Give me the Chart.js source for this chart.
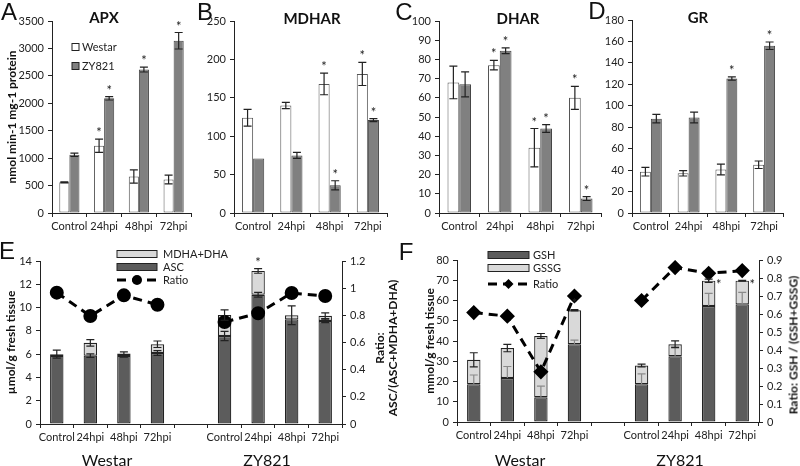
<!DOCTYPE html>
<html>
<head>
<meta charset="utf-8">
<script src="https://cdn.jsdelivr.net/npm/chart.js@4.4.0/dist/chart.umd.min.js"></script>
<style>
body { margin: 0; background: #fff; }
#wrap { position: relative; width: 800px; height: 466px; overflow: hidden; font-family: Lato, sans-serif; color: #111; }
canvas { position: absolute; left: 0; top: 0; }
.t { position: absolute; white-space: nowrap; transform: translate(-50%, -50%); }
.letter { font-family: "Liberation Sans", Arial, sans-serif; font-size: 24px; }
.ttl { font-weight: bold; font-size: 15px; }
.grp { font-size: 16px; }
.rot { transform: translate(-50%, -50%) rotate(-90deg); font-weight: bold; font-size: 12px; text-align: center; line-height: 13px; }
</style>
</head>
<body>
<div id="wrap">
  <canvas id="chartA" width="800" height="466"></canvas>
  <canvas id="chartB" width="800" height="466"></canvas>
  <canvas id="chartC" width="800" height="466"></canvas>
  <canvas id="chartD" width="800" height="466"></canvas>
  <canvas id="chartE" width="800" height="466"></canvas>
  <canvas id="chartF" width="800" height="466"></canvas>

  <div class="t letter" style="left:9px;top:12px">A</div>
  <div class="t letter" style="left:205px;top:12px">B</div>
  <div class="t letter" style="left:404px;top:12px">C</div>
  <div class="t letter" style="left:597px;top:11px">D</div>
  <div class="t letter" style="left:7px;top:251px">E</div>
  <div class="t letter" style="left:406px;top:252px">F</div>

  <div class="t ttl" style="left:104px;top:17px">APX</div>
  <div class="t ttl" style="left:312px;top:18px">MDHAR</div>
  <div class="t ttl" style="left:518px;top:18px">DHAR</div>
  <div class="t ttl" style="left:698px;top:17px">GR</div>

  <div class="t grp" style="left:107px;top:459px">Westar</div>
  <div class="t grp" style="left:267px;top:459px">ZY821</div>
  <div class="t grp" style="left:520px;top:459px">Westar</div>
  <div class="t grp" style="left:680px;top:459px">ZY821</div>

  <div class="t rot" style="left:386px;top:348px">Ratio:<br>ASC/(ASC+MDHA+DHA)</div>
  <div class="t rot" style="left:793px;top:345px">Ratio: GSH / (GSH+GSSG)</div>
</div>

<script>
// categories
const timeCats = ['Control', '24hpi', '48hpi', '72hpi'];
const groupCats = ['Control', '24hpi', '48hpi', '72hpi', '', 'Control', '24hpi', '48hpi', '72hpi'];

// A - APX
const apxWestar = [560, 1225, 665, 610];
const apxWestarErr = [10, 120, 120, 80];
const apxZy = [1060, 2090, 2615, 3140];
const apxZyErr = [30, 30, 45, 150];
const apxWestarStars = [0, 1, 0, 0];
const apxZyStars = [0, 1, 1, 1];

// B - MDHAR
const mdharWestar = [124, 140, 168, 181];
const mdharWestarErr = [11, 4, 14, 15];
const mdharZy = [71, 75, 36, 121];
const mdharZyErr = [0, 4, 6, 2];
const mdharWestarStars = [0, 0, 1, 1];
const mdharZyStars = [0, 0, 1, 1];

// C - DHAR
const dharWestar = [68, 77, 34, 60];
const dharWestarErr = [8.5, 2.5, 10, 6];
const dharZy = [67, 84.5, 44, 7.5];
const dharZyErr = [6.5, 1.5, 2, 1];
const dharWestarStars = [0, 1, 1, 1];
const dharZyStars = [0, 1, 1, 1];

// D - GR
const grWestar = [38.5, 37, 40.5, 45];
const grWestarErr = [4, 2.5, 5, 3.5];
const grZy = [88, 89, 125.5, 156];
const grZyErr = [4, 5, 1.5, 3.5];
const grWestarStars = [0, 0, 0, 0];
const grZyStars = [0, 0, 1, 1];

// E - ascorbate pool
const ascE = [5.85, 5.87, 5.85, 6.1, null, 7.56, 11.1, 8.99, 8.85];
const ascErrE = [0, 0.15, 0.1, 0.2, null, 0.4, 0.2, 0, 0.15];
const mdhaE = [0.15, 1.1, 0.2, 0.75, null, 1.8, 2.05, 0.35, 0.45];
const totalErrE = [0.35, 0.28, 0.15, 0.28, null, 0.45, 0.2, 0.8, 0.25];
const starsE = [0, 0, 0, 0, 0, 0, 1, 0, 0];
const ratioE = [0.967, 0.795, 0.947, 0.878, null, 0.751, 0.815, 0.964, 0.942];

// F - glutathione pool
const gshF = [18.7, 21.7, 12.2, 38.4, null, 18.7, 32.5, 57.3, 58.1];
const gshErrF = [4.5, 5.7, 5.5, 2.0, null, 5.1, 5.0, 6.2, 5.9];
const gssgF = [12.0, 14.8, 30.3, 16.8, null, 9.2, 5.9, 12.5, 11.7];
const totalErrF = [3.5, 1.8, 1.2, 0.3, null, 0.7, 1.7, 0.8, 0.2];
const starsF = [0, 0, 0, 1, 0, 0, 0, 2, 2];
const ratioF = [0.608, 0.588, 0.279, 0.70, null, 0.675, 0.858, 0.826, 0.841];

Chart.defaults.font.family = 'Lato, sans-serif';
Chart.defaults.font.size = 11;
Chart.defaults.color = '#222';

const errorBars = {
  id: 'errorBars',
  afterDatasetsDraw(chart) {
    const ctx = chart.ctx;
    chart.data.datasets.forEach((ds, di) => {
      if (!ds.errors && !ds.stars) return;
      const meta = chart.getDatasetMeta(di);
      const scale = chart.scales[meta.yAxisID];
      const unit = Math.abs(scale.getPixelForValue(1) - scale.getPixelForValue(0));
      meta.data.forEach((bar, i) => {
        if (ds.data[i] == null) return;
        const x = bar.x, y = bar.y;
        const d = (ds.errors ? ds.errors[i] || 0 : 0) * unit;
        ctx.save();
        ctx.strokeStyle = ds.errColor || '#222';
        ctx.lineWidth = 1.2;
        if (d > 0) {
          const lo = ds.errUp ? y : y + d;
          ctx.beginPath();
          ctx.moveTo(x, y - d); ctx.lineTo(x, lo);
          ctx.moveTo(x - 4, y - d); ctx.lineTo(x + 4, y - d);
          if (!ds.errUp) { ctx.moveTo(x - 4, lo); ctx.lineTo(x + 4, lo); }
          ctx.stroke();
        }
        const s = ds.stars ? ds.stars[i] : 0;
        if (s) {
          ctx.fillStyle = '#222';
          ctx.font = '13px Lato, sans-serif';
          ctx.textAlign = 'center';
          ctx.textBaseline = 'alphabetic';
          if (s === 1) ctx.fillText('*', x, y - d - 2);
          else ctx.fillText('*', x + 10, y + 8);
        }
        ctx.restore();
      });
    });
  }
};

function makeKey(items) {
  return {
    id: 'keyBox',
    afterDraw(chart) {
      const ctx = chart.ctx;
      ctx.save();
      items.forEach(it => {
        if (it.kind === 'box') {
          ctx.fillStyle = it.fill;
          ctx.strokeStyle = '#222';
          ctx.lineWidth = 1;
          ctx.fillRect(it.x, it.y - it.h / 2, it.w, it.h);
          ctx.strokeRect(it.x, it.y - it.h / 2, it.w, it.h);
        } else {
          ctx.strokeStyle = '#000';
          ctx.lineWidth = it.lw;
          ctx.setLineDash(it.dash);
          ctx.beginPath();
          ctx.moveTo(it.x, it.y); ctx.lineTo(it.x + it.w, it.y);
          ctx.stroke();
          ctx.setLineDash([]);
          ctx.fillStyle = '#000';
          const cx = it.x + it.w / 2;
          ctx.beginPath();
          if (it.marker === 'circle') {
            ctx.arc(cx, it.y, 5, 0, Math.PI * 2);
          } else {
            ctx.moveTo(cx, it.y - 5); ctx.lineTo(cx + 5, it.y); ctx.lineTo(cx, it.y + 5); ctx.lineTo(cx - 5, it.y);
            ctx.closePath();
          }
          ctx.fill();
        }
        ctx.fillStyle = '#222';
        ctx.font = '11px Lato, sans-serif';
        ctx.textAlign = 'left';
        ctx.textBaseline = 'middle';
        ctx.fillText(it.text, it.tx, it.y);
      });
      ctx.restore();
    }
  };
}

function leftAxis(max, step, width, title, stacked) {
  return {
    position: 'left', min: 0, max: max, stacked: stacked,
    ticks: { stepSize: step, padding: 4, callback: v => Math.round(v * 10) / 10 },
    grid: { drawOnChartArea: false, tickLength: 4, color: '#222' },
    border: { color: '#222' },
    title: title ? { display: true, text: title, font: { size: 12, weight: 'bold' }, color: '#111', padding: { top: 1, bottom: 0 } } : { display: false },
    afterFit(s) { s.width = width; }
  };
}

function rightAxis(max, step, width) {
  return {
    position: 'right', min: 0, max: max,
    ticks: { stepSize: step, padding: 4, callback: v => Math.round(v * 10) / 10 },
    grid: { drawOnChartArea: false, tickLength: 4, color: '#222' },
    border: { color: '#222' },
    afterFit(s) { s.width = width; }
  };
}

function bottomAxis(height, stacked) {
  return {
    stacked: stacked,
    ticks: { maxRotation: 0, minRotation: 0, autoSkip: false, padding: 3 },
    grid: { drawOnChartArea: false, tickLength: 4, color: '#222', offset: true },
    border: { color: '#222' },
    afterFit(s) { s.height = height; }
  };
}

// plot box: left, top, right, bottom of the plot area, width of y axis
function enzymeChart(id, box, westar, westarErr, westarStars, zy, zyErr, zyStars, max, step, yTitle, keyItems) {
  const plugins = [errorBars];
  if (keyItems) plugins.push(makeKey(keyItems));
  new Chart(document.getElementById(id), {
    type: 'bar',
    data: {
      labels: timeCats,
      datasets: [
        { label: 'Westar', data: westar, errors: westarErr, stars: westarStars, backgroundColor: '#ffffff', borderColor: '#555', borderWidth: 1, borderSkipped: false, categoryPercentage: 0.58, barPercentage: 1 },
        { label: 'ZY821', data: zy, errors: zyErr, stars: zyStars, backgroundColor: '#808080', borderColor: '#444', borderWidth: 1, borderSkipped: false, categoryPercentage: 0.58, barPercentage: 1 }
      ]
    },
    options: {
      responsive: false, animation: false,
      layout: { padding: { left: box.left - box.axisW, top: box.top, right: 800 - box.right, bottom: 466 - box.bottom - 24 } },
      plugins: { legend: { display: false }, tooltip: { enabled: false } },
      scales: { x: bottomAxis(24, false), y: leftAxis(max, step, box.axisW, yTitle, false) }
    },
    plugins: plugins
  });
}

enzymeChart('chartA', { left: 52, top: 21, right: 191, bottom: 213, axisW: 48 },
  apxWestar, apxWestarErr, apxWestarStars, apxZy, apxZyErr, apxZyStars, 3500, 500, 'nmol min-1 mg-1 protein',
  [
    { kind: 'box', fill: '#ffffff', x: 72, y: 47, w: 7, h: 7, text: 'Westar', tx: 82 },
    { kind: 'box', fill: '#808080', x: 72, y: 66, w: 7, h: 7, text: 'ZY821', tx: 82 }
  ]);
enzymeChart('chartB', { left: 234, top: 21, right: 387, bottom: 213, axisW: 40 },
  mdharWestar, mdharWestarErr, mdharWestarStars, mdharZy, mdharZyErr, mdharZyStars, 250, 50, null, null);
enzymeChart('chartC', { left: 439, top: 21, right: 601, bottom: 213, axisW: 40 },
  dharWestar, dharWestarErr, dharWestarStars, dharZy, dharZyErr, dharZyStars, 100, 10, null, null);
enzymeChart('chartD', { left: 632, top: 20, right: 783, bottom: 213, axisW: 40 },
  grWestar, grWestarErr, grWestarStars, grZy, grZyErr, grZyStars, 180, 20, null, null);

function poolChart(id, box, bottomData, bottomErr, bottomLabel, topData, topErr, topLabel, stars, ratio, errUp, leftMax, leftStep, rightMax, rightStep, yTitle, marker, keyItems) {
  new Chart(document.getElementById(id), {
    type: 'bar',
    data: {
      labels: groupCats,
      datasets: [
        { label: bottomLabel, data: bottomData, errors: bottomErr, errUp: errUp, errColor: errUp ? '#8a8a8a' : '#222', backgroundColor: '#5c5c5c', borderColor: '#222', borderWidth: 1.2, borderSkipped: false, categoryPercentage: 0.4, barPercentage: 1, order: 1 },
        { label: topLabel, data: topData, errors: topErr, stars: stars, backgroundColor: '#d9d9d9', borderColor: '#222', borderWidth: 1.2, borderSkipped: false, categoryPercentage: 0.4, barPercentage: 1, order: 1 },
        { type: 'line', label: 'Ratio', data: ratio, yAxisID: 'y1', borderColor: '#000', borderWidth: 3, borderDash: [9, 6], pointStyle: marker, pointRadius: marker === 'circle' ? 5.5 : 5.5, pointBackgroundColor: '#000', pointBorderColor: '#000', spanGaps: false, order: 0 }
      ]
    },
    options: {
      responsive: false, animation: false,
      layout: { padding: { left: box.left - box.axisW, top: box.top, right: 800 - box.right - box.rightW, bottom: 466 - box.bottom - 20 } },
      plugins: { legend: { display: false }, tooltip: { enabled: false } },
      scales: {
        x: bottomAxis(20, true),
        y: leftAxis(leftMax, leftStep, box.axisW, yTitle, true),
        y1: rightAxis(rightMax, rightStep, box.rightW)
      }
    },
    plugins: [errorBars, makeKey(keyItems)]
  });
}

poolChart('chartE', { left: 40, top: 261, right: 342, bottom: 424, axisW: 37, rightW: 58 },
  ascE, ascErrE, 'ASC', mdhaE, totalErrE, 'MDHA+DHA', starsE, ratioE, false, 14, 2, 1.2, 0.2, 'µmol/g fresh tissue', 'circle',
  [
    { kind: 'box', fill: '#d9d9d9', x: 117, y: 254, w: 40, h: 7, text: 'MDHA+DHA', tx: 163 },
    { kind: 'box', fill: '#5c5c5c', x: 117, y: 267, w: 40, h: 7, text: 'ASC', tx: 163 },
    { kind: 'line', x: 117, y: 280, w: 40, lw: 3, dash: [9, 6], marker: 'circle', text: 'Ratio', tx: 163 }
  ]);

poolChart('chartF', { left: 457, top: 260, right: 759, bottom: 422, axisW: 35, rightW: 41 },
  gshF, gshErrF, 'GSH', gssgF, totalErrF, 'GSSG', starsF, ratioF, true, 80, 10, 0.9, 0.1, 'mmol/g fresh tissue', 'rectRot',
  [
    { kind: 'box', fill: '#5c5c5c', x: 488, y: 255, w: 41, h: 7, text: 'GSH', tx: 533 },
    { kind: 'box', fill: '#d9d9d9', x: 488, y: 268, w: 41, h: 7, text: 'GSSG', tx: 533 },
    { kind: 'line', x: 488, y: 284, w: 41, lw: 3, dash: [9, 6], marker: 'diamond', text: 'Ratio', tx: 533 }
  ]);
</script>
</body>
</html>
